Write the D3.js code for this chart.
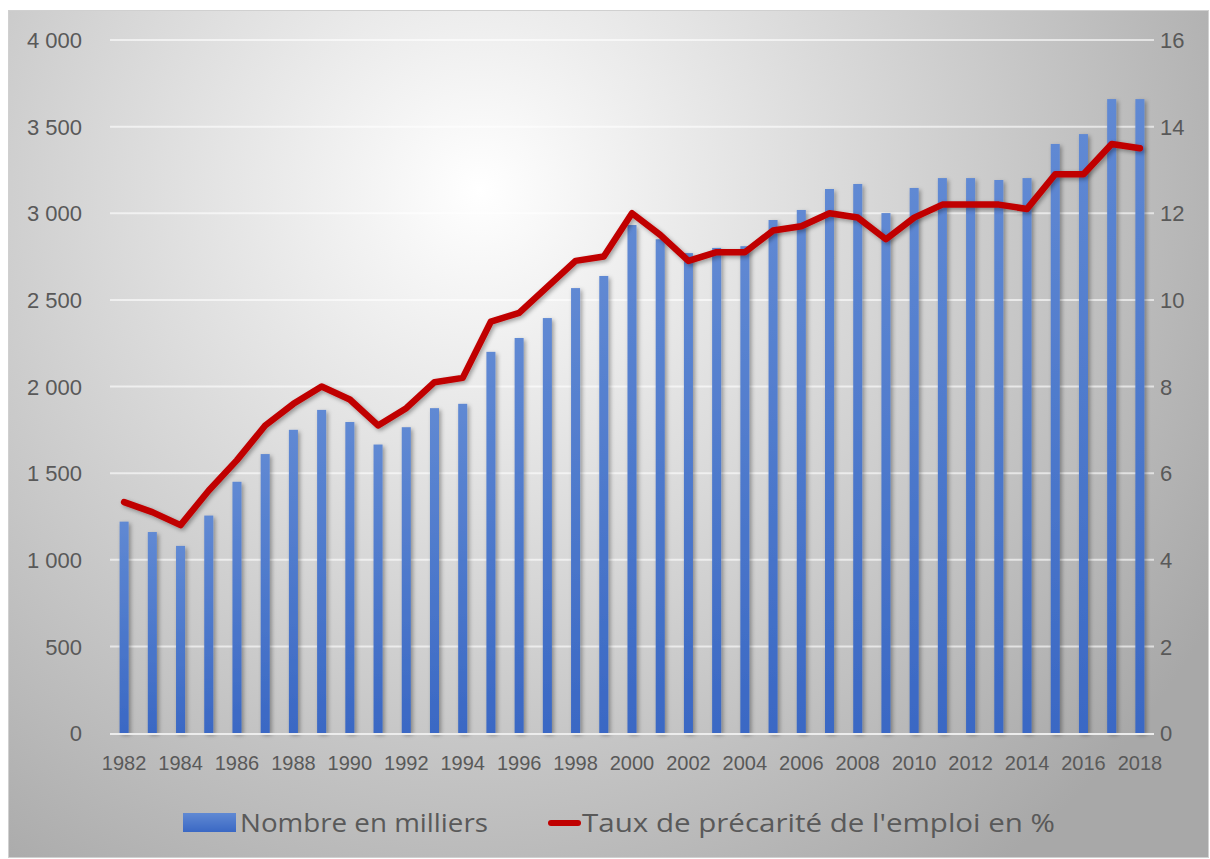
<!DOCTYPE html>
<html><head><meta charset="utf-8">
<script src="https://cdn.jsdelivr.net/npm/d3@7"></script>
<style>body{margin:0;background:#fff;}svg{display:block;font-family:"Open Sans","Noto Sans",sans-serif;}</style>
</head><body><svg id="c" width="1210" height="859"></svg>
<script>
const years = d3.range(1982, 2019).map(String);
const nombre = [1220,1160,1080,1255,1450,1610,1750,1865,1795,1665,1765,1875,1900,2200,2280,2395,2568,2638,2932,2850,2770,2800,2810,2961,3019,3140,3169,3001,3146,3203,3203,3192,3203,3400,3457,3659,3659];
const taux = [5.33,5.1,4.8,5.6,6.3,7.1,7.6,8.0,7.7,7.1,7.5,8.1,8.2,9.5,9.7,10.3,10.9,11.0,12.0,11.5,10.9,11.1,11.1,11.6,11.7,12.0,11.9,11.4,11.9,12.2,12.2,12.2,12.1,12.9,12.9,13.6,13.5];
const leftTicks = [0,500,1000,1500,2000,2500,3000,3500,4000];
const rightTicks = [0,2,4,6,8,10,12,14,16];
const seriesNames = ["Nombre en milliers","Taux de précarité de l'emploi en %"];

const svg = d3.select("#c");
const defs = svg.append("defs");
const bg = defs.append("radialGradient").attr("id","bg").attr("gradientUnits","userSpaceOnUse")
  .attr("cx",480).attr("cy",190).attr("r",850);
bg.append("stop").attr("offset","0%").attr("stop-color","#ffffff");
bg.append("stop").attr("offset","100%").attr("stop-color","#a8a8a8");
const bar = defs.append("linearGradient").attr("id","bar").attr("x1",0).attr("y1",0).attr("x2",0).attr("y2",1);
bar.append("stop").attr("offset","0%").attr("stop-color","#6089d3");
bar.append("stop").attr("offset","100%").attr("stop-color","#3a68c4");
const sh = defs.append("filter").attr("id","sh").attr("x","-50%").attr("y","-10%").attr("width","200%").attr("height","130%");
sh.append("feDropShadow").attr("dx",2).attr("dy",2).attr("stdDeviation",2).attr("flood-color","#000").attr("flood-opacity",0.35);

svg.append("rect").attr("x",8.5).attr("y",10.5).attr("width",1200).attr("height",847)
  .attr("fill","url(#bg)").attr("stroke","#d0d0d0");

const L = 110, R = 1154, T = 40, B = 733;
const x = d3.scaleBand().domain(years).range([L,R]).paddingInner(0.68).paddingOuter(0.34);
const yL = d3.scaleLinear().domain([0,4000]).range([B,T]);
const yR = d3.scaleLinear().domain([0,16]).range([B,T]);

// gridlines
svg.append("g").selectAll("line").data(leftTicks.slice(1)).join("line")
  .attr("x1",L).attr("x2",R).attr("y1",d=>yL(d)).attr("y2",d=>yL(d))
  .attr("stroke","#ffffff").attr("stroke-opacity",0.6).attr("stroke-width",2);

// left axis
const fmt = d => d3.format(",")(d).replace(/,/g," ");
const ax = svg.append("g").attr("transform",`translate(${L-25},0)`)
  .call(d3.axisLeft(yL).tickValues(leftTicks).tickFormat(fmt).tickSize(0));
ax.select(".domain").remove();
ax.selectAll("text").attr("font-size",22).attr("fill","#595959").attr("dy","0.35em");

const axR = svg.append("g").attr("transform",`translate(${R+3},0)`)
  .call(d3.axisRight(yR).tickValues(rightTicks).tickSize(0));
axR.select(".domain").remove();
axR.selectAll("text").attr("font-size",22).attr("fill","#595959").attr("dy","0.35em");

// bars
svg.append("g").attr("filter","url(#sh)").selectAll("rect").data(nombre).join("rect")
  .attr("x",(d,i)=>x(years[i])).attr("width",x.bandwidth())
  .attr("y",d=>yL(d)).attr("height",d=>B-yL(d)).attr("fill","url(#bar)");

// baseline
svg.append("line").attr("x1",L).attr("x2",R).attr("y1",B+1).attr("y2",B+1)
  .attr("stroke","#ececec").attr("stroke-width",2);

// x axis labels
const xa = svg.append("g").attr("transform",`translate(0,${B})`)
  .call(d3.axisBottom(x).tickValues(years.filter((d,i)=>i%2===0)).tickSize(0));
xa.select(".domain").remove();
xa.selectAll("text").attr("font-size",20).attr("fill","#595959").attr("dy","1.7em");

// line
const line = d3.line().x((d,i)=>x(years[i])+x.bandwidth()/2).y(d=>yR(d));
svg.append("path").datum(taux).attr("d",line).attr("fill","none")
  .attr("stroke","#c00000").attr("stroke-width",6.5).attr("stroke-linejoin","round").attr("stroke-linecap","round")
  .attr("filter","url(#sh)");

// legend
const lg = svg.append("g");
lg.append("rect").attr("x",183).attr("y",813).attr("width",53).attr("height",19).attr("fill","url(#bar)");
lg.append("text").attr("x",240).attr("y",832).attr("font-size",25).attr("fill","#595959")
  .attr("textLength",248).attr("lengthAdjust","spacingAndGlyphs").text(seriesNames[0]);
lg.append("line").attr("x1",551).attr("x2",578).attr("y1",823).attr("y2",823)
  .attr("stroke","#c00000").attr("stroke-width",6).attr("stroke-linecap","round");
lg.append("text").attr("x",582).attr("y",832).attr("font-size",25).attr("fill","#595959")
  .attr("textLength",473).attr("lengthAdjust","spacingAndGlyphs").text(seriesNames[1]);
</script></body></html>
